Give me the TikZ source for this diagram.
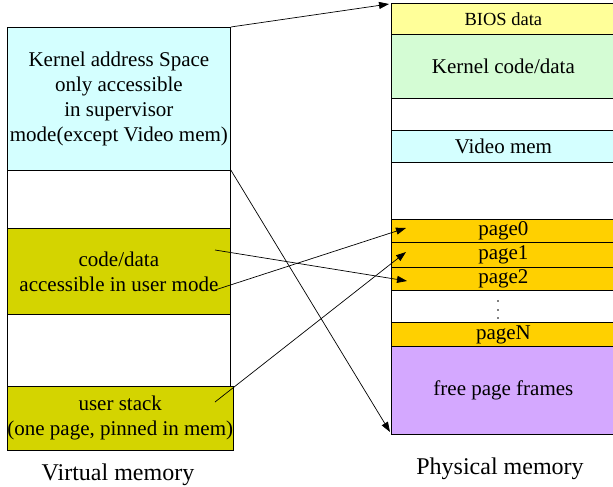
\documentclass[tikz,border=0pt]{standalone}
\usepackage{fontspec}
\setmainfont{Liberation Serif}
\usetikzlibrary{arrows.meta}
\definecolor{kernelcyan}{HTML}{D4FFFF}
\definecolor{userolive}{HTML}{D4D400}
\definecolor{biosyellow}{HTML}{FFFF99}
\definecolor{kcodegreen}{HTML}{D4FCD4}
\definecolor{pagegold}{HTML}{FFD000}
\definecolor{freepurple}{HTML}{D4A8FF}
\begin{document}
\begin{tikzpicture}[x=1pt,y=-1pt,
  region/.style={draw=black, line width=0.8pt, anchor=north west, inner sep=0pt,
    align=center, font=\fontsize{21}{25}\selectfont},
  vreg/.style={region, minimum width=223pt},
  preg/.style={region, minimum width=224pt},
  maparrow/.style={line width=0.7pt, -{Triangle[length=10pt,width=7pt]}},
  caption/.style={font=\fontsize{24}{28}\selectfont}]
\clip (0,0) rectangle (613,487);
\fill[white] (0,0) rectangle (613,487);

% virtual address space
\node[vreg, fill=kernelcyan, minimum height=143pt] (vkern) at (7,27)
  {Kernel address Space\\only accessible\\in supervisor\\mode(except Video mem)};
\node[vreg, fill=white, minimum height=58pt] (vgap1) at (7,170) {};
\node[vreg, fill=userolive, minimum height=86pt] (vcode) at (7,228)
  {code/data\\accessible in user mode};
\node[vreg, fill=white, minimum height=72pt] (vgap2) at (7,314) {};
\node[vreg, fill=userolive, minimum height=64pt] (vstack) at (7,386)
  {user stack\\(one page, pinned in mem)};

% physical frames
\node[preg, fill=biosyellow, minimum height=31pt, font=\fontsize{18.5}{22}\selectfont] (bios) at (391,3) {BIOS data};
\node[preg, fill=kcodegreen, minimum height=64pt] (kcode) at (391,34) {Kernel code/data};
\node[preg, fill=white, minimum height=32pt] (pgap1) at (391,98) {};
\node[preg, fill=kernelcyan, minimum height=32pt] (video) at (391,130) {Video mem};
\node[preg, fill=white, minimum height=57pt] (pgap2) at (391,162) {};
\node[preg, fill=pagegold, minimum height=23pt] (page0) at (391,219) {page0};
\node[preg, fill=pagegold, minimum height=25pt] (page1) at (391,242) {page1};
\node[preg, fill=pagegold, minimum height=23pt] (page2) at (391,267) {page2};
\node[preg, fill=white, minimum height=32pt] (pdots) at (391,290) {};
\node[preg, fill=pagegold, minimum height=24pt] (pageN) at (391,322) {pageN};
\node[preg, fill=freepurple, minimum height=88pt] (free) at (391,346) {free page frames};

% vertical ellipsis between page2 and pageN
\foreach \dy in {301,310,318}
  \fill (498,\dy) circle (0.8pt);

% mapping anchors
\coordinate (codeA) at (215,250);
\coordinate (codeB) at (215,290);
\coordinate (stackA) at (215,402);
\coordinate (tgtBios) at (389,4);
\coordinate (tgtFree) at (390,432);
\coordinate (tgtP0) at (406,228);
\coordinate (tgtP1) at (406,252);
\coordinate (tgtP2) at (407,281);

\draw[maparrow] (vkern.north east) -- (tgtBios);
\draw[maparrow] (vgap1.north east) -- (tgtFree);
\draw[maparrow] (codeA) -- (tgtP2);
\draw[maparrow] (codeB) -- (tgtP0);
\draw[maparrow] (stackA) -- (tgtP1);

% captions
\node[caption] (vcap) at (118,475) {Virtual memory};
\node[caption] (pcap) at (500,469) {Physical memory};
\end{tikzpicture}
\end{document}
